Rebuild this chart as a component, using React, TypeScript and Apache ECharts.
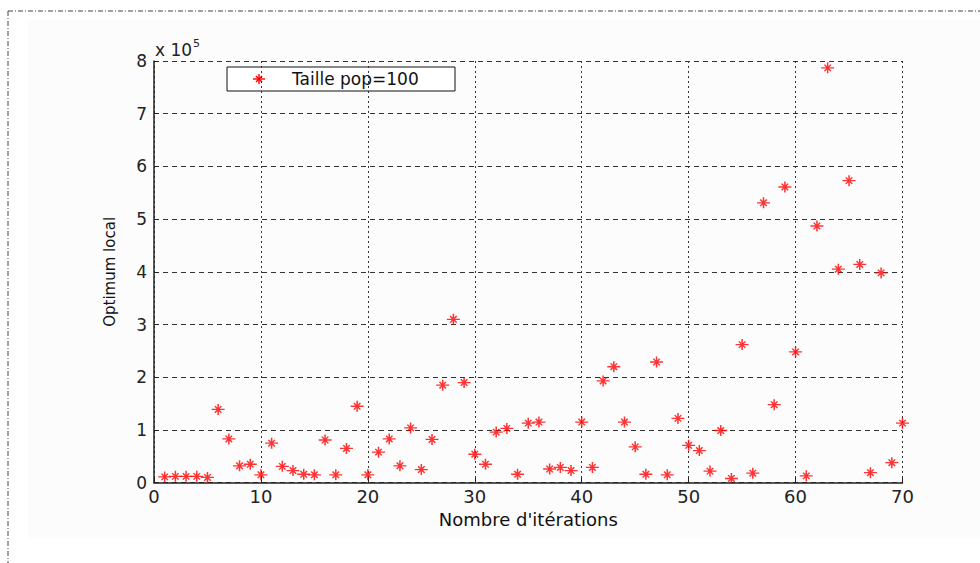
import React, { useEffect, useRef } from "react";
import * as echarts from "echarts";

const iterations: number[] = Array.from({ length: 70 }, (_, i) => i + 1);
// Optimum local values, in units of 1e5
const optimumValues: number[] = [
  0.11, 0.12, 0.12, 0.12, 0.10, 1.39, 0.83, 0.32, 0.35, 0.15,
  0.75, 0.31, 0.23, 0.16, 0.15, 0.81, 0.15, 0.65, 1.45, 0.15,
  0.58, 0.83, 0.32, 1.04, 0.25, 0.82, 1.85, 3.10, 1.90, 0.54,
  0.35, 0.96, 1.03, 0.16, 1.13, 1.15, 0.26, 0.29, 0.23, 1.15,
  0.29, 1.93, 2.20, 1.15, 0.68, 0.16, 2.29, 0.15, 1.22, 0.71,
  0.61, 0.22, 0.99, 0.08, 2.62, 0.18, 5.31, 1.48, 5.61, 2.48,
  0.13, 4.87, 7.87, 4.05, 5.73, 4.14, 0.19, 3.98, 0.38, 1.13,
];
const seriesName = "Taille pop=100";
const xTitle = "Nombre d'itérations";
const yTitle = "Optimum local";
const xMin = 0, xMax = 70, xStep = 10;
const yMin = 0, yMax = 8, yStep = 1;

const FONT = "DejaVu Sans";
const STAR = "path://M0,-5L0,5M-6,0L6,0M-3,-3L3,3M-3,3L3,-3";

export default function App() {
  const ref = useRef<HTMLDivElement>(null);
  useEffect(() => {
    if (!ref.current) return;
    const chart = echarts.init(ref.current, null, { renderer: "svg" });
    const data = iterations.map((x, i) => [x, optimumValues[i]]);
    chart.setOption({
      animation: false,
      backgroundColor: "#ffffff",
      grid: { left: 154, top: 61, right: 77.5, bottom: 80.3, containLabel: false },
      xAxis: {
        type: "value",
        min: xMin,
        max: xMax,
        interval: xStep,
        name: xTitle,
        nameLocation: "middle",
        nameGap: 24,
        nameTextStyle: { fontFamily: FONT, fontSize: 18, color: "#111" },
        axisLine: { show: true, onZero: false, lineStyle: { color: "#222", width: 1.5 } },
        axisTick: { show: true, inside: true, length: 5, lineStyle: { color: "#222" } },
        axisLabel: { fontFamily: FONT, fontSize: 18, color: "#222", margin: 5 },
        splitLine: { show: true, lineStyle: { color: "#333", type: [2, 3], width: 1 } },
      },
      yAxis: {
        type: "value",
        min: yMin,
        max: yMax,
        interval: yStep,
        name: yTitle,
        nameLocation: "middle",
        nameGap: 37,
        nameTextStyle: { fontFamily: FONT, fontSize: 15, color: "#111" },
        axisLine: { show: true, onZero: false, lineStyle: { color: "#222", width: 1.5 } },
        axisTick: { show: true, inside: true, length: 5, lineStyle: { color: "#222" } },
        axisLabel: { fontFamily: FONT, fontSize: 17, color: "#222", margin: 7 },
        splitLine: { show: true, lineStyle: { color: "#333", type: [5, 4], width: 1 } },
      },
      series: [
        {
          type: "scatter",
          name: seriesName,
          data,
          symbol: STAR,
          symbolSize: [13, 11],
          itemStyle: { color: "#ff0000", borderColor: "#ff0000", borderWidth: 1.4 },
          emphasis: { disabled: true },
          z: 5,
        },
      ],
      graphic: [
        { type: "rect", z: -10, silent: true, shape: { x: 28, y: 20, width: 952, height: 518 }, style: { fill: "#fcfcfc" } },
        { type: "line", silent: true, shape: { x1: 8, y1: 11, x2: 980, y2: 11 }, style: { stroke: "#444", lineWidth: 1, lineDash: [5, 2, 1, 2] } },
        { type: "line", silent: true, shape: { x1: 8, y1: 11, x2: 8, y2: 563 }, style: { stroke: "#444", lineWidth: 1, lineDash: [5, 2, 1, 2] } },
        {
          type: "text",
          silent: true,
          x: 155,
          y: 38,
          style: {
            text: "{a|x 10}{s|5}",
            rich: {
              a: { fontFamily: FONT, fontSize: 17, fill: "#222", verticalAlign: "bottom" },
              s: { fontFamily: FONT, fontSize: 11, fill: "#222", padding: [0, 0, 9, 1], verticalAlign: "bottom" },
            },
          },
        },
        {
          type: "group",
          silent: true,
          z: 20,
          children: [
            { type: "rect", shape: { x: 227, y: 67, width: 228, height: 24 }, style: { fill: "#ffffff", stroke: "#111", lineWidth: 1 } },
            { type: "line", shape: { x1: 253, y1: 79, x2: 265, y2: 79 }, style: { stroke: "#ff0000", lineWidth: 1.4 } },
            { type: "line", shape: { x1: 259, y1: 74, x2: 259, y2: 84 }, style: { stroke: "#ff0000", lineWidth: 1.4 } },
            { type: "line", shape: { x1: 256, y1: 76, x2: 262, y2: 82 }, style: { stroke: "#ff0000", lineWidth: 1.4 } },
            { type: "line", shape: { x1: 256, y1: 82, x2: 262, y2: 76 }, style: { stroke: "#ff0000", lineWidth: 1.4 } },
            {
              type: "text",
              x: 292,
              y: 79,
              style: { text: seriesName, fontFamily: FONT, fontSize: 17, fill: "#111", verticalAlign: "middle", align: "left" },
            },
          ],
        },
      ],
    });
    return () => chart.dispose();
  }, []);
  return (
    <div
      ref={ref}
      style={{ position: "fixed", left: 0, top: 0, width: 980, height: 563, background: "#fff" }}
    />
  );
}
